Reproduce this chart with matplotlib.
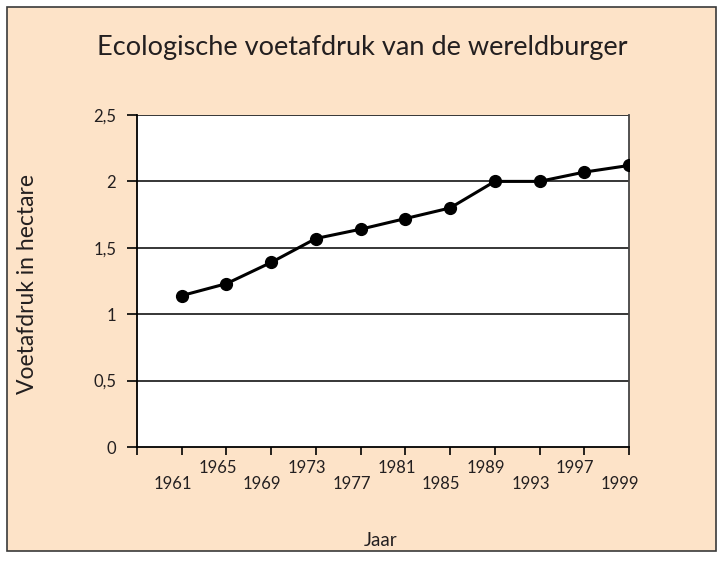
import matplotlib.pyplot as plt
import matplotlib.transforms as mtransforms
from matplotlib.patches import Rectangle

plt.rcParams['font.family'] = ['Lato', 'DejaVu Sans']

# data
years = ['1961', '1965', '1969', '1973', '1977', '1981', '1985', '1989', '1993', '1997', '1999']
footprint = [1.14, 1.23, 1.39, 1.57, 1.64, 1.72, 1.80, 2.00, 2.00, 2.07, 2.12]
y_ticks = [0, 0.5, 1, 1.5, 2, 2.5]
y_ticklabels = ['0', '0,5', '1', '1,5', '2', '2,5']

bg = '#fde3c8'
txt = '#231f20'

fig = plt.figure(figsize=(7.23, 5.64), dpi=100)
fig.patch.set_facecolor('white')
fig.patches.append(Rectangle((7 / 723, 1 - 551 / 564), (716 - 7) / 723, (551 - 7) / 564,
                             transform=fig.transFigure, facecolor=bg,
                             edgecolor='#3a3a3a', linewidth=1.2, zorder=-1))

ax = fig.add_axes([137 / 723, 1 - 447 / 564, (629 - 137) / 723, (447 - 115) / 564])
ax.set_facecolor('white')

xs = list(range(1, len(years) + 1))
ax.plot(xs, footprint, color='black', linewidth=2.2, marker='o', markersize=8.5, zorder=3)

ax.set_xlim(0, len(years))
ax.set_ylim(0, 2.5)
ax.set_yticks(y_ticks)
ax.set_yticklabels(y_ticklabels, fontsize=12, color=txt)
ax.set_xticks(range(0, len(years) + 1))
ax.set_xticklabels([])
ax.tick_params(axis='y', length=7, width=1.2, pad=8, color='black')
ax.tick_params(axis='x', length=6, width=1.2, color='black')

for v in y_ticks[1:]:
    ax.axhline(v, color='black', linewidth=1.1, zorder=1)

for s in ['left', 'bottom']:
    ax.spines[s].set_linewidth(1.3)
ax.spines['right'].set_color('#444444')
ax.spines['right'].set_linewidth(1.3)
ax.spines['top'].set_visible(False)

trans = mtransforms.blended_transform_factory(ax.transData, ax.transAxes)
for i, (x, lab) in enumerate(zip(xs, years)):
    yoff = -0.111 if i % 2 == 0 else -0.063
    ax.text(x - 0.2, yoff, lab, transform=trans, ha='center', va='center',
            fontsize=12, color=txt)

fig.text(362 / 723, 1 - 47 / 564, 'Ecologische voetafdruk van de wereldburger',
         ha='center', va='center', fontsize=19.5, color=txt)
fig.text(28 / 723, 1 - 284 / 564, 'Voetafdruk in hectare', rotation=90,
         ha='center', va='center', fontsize=16.5, color=txt)
fig.text(381 / 723, 1 - 540 / 564, 'Jaar', ha='center', va='center',
         fontsize=13.5, color=txt)

fig.savefig('out.png', dpi=100, facecolor=fig.get_facecolor())
